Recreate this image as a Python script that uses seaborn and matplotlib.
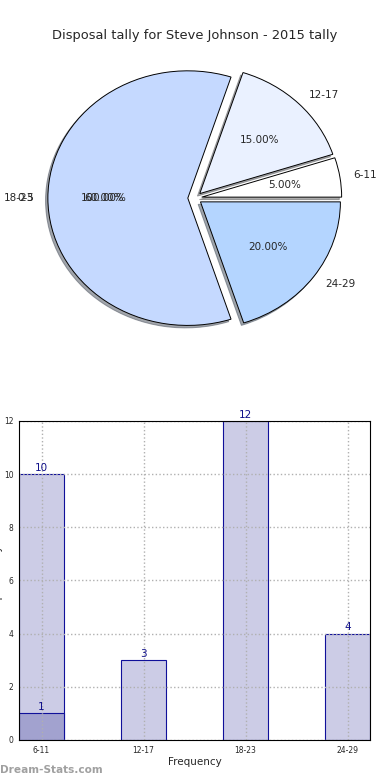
import matplotlib
matplotlib.use("Agg")
import matplotlib.pyplot as plt
import seaborn as sns
import pandas as pd

# data
age_groups = ["6-11", "12-17", "18-23", "24-29"]
pie_share = [5, 15, 60, 20]
pie_colors = ["#ffffff", "#eaf1ff", "#c5d9ff", "#b4d5ff"]
tally = [10, 3, 12, 4]
first_group = ["6-11"]
first_tally = [1]
extra_label = "0-5"
extra_pct = "100.00%"

sns.set_style("white")
plt.rcParams["font.family"] = ["DejaVu Sans"]

fig = plt.figure(figsize=(3.9, 7.8), dpi=100)
fig.suptitle("Disposal tally for Steve Johnson - 2015 tally", fontsize=9.4, y=0.963)

# pie
ax1 = fig.add_axes([0.051, 0.542, 0.897, 0.408])
wedges, texts, autotexts = ax1.pie(
    pie_share,
    labels=age_groups,
    colors=pie_colors,
    explode=[0.05] * len(pie_share),
    autopct="%.2f%%",
    shadow={"ox": -0.012, "oy": -0.014, "shade": 0.65},
    startangle=0,
    wedgeprops={"edgecolor": "black", "linewidth": 0.7},
    textprops={"fontsize": 7.5},
)
ax1.set_aspect("auto")
ax1.set_xlim(-1.25, 1.25)
ax1.set_ylim(-1.25, 1.25)

# stray zero slice that sits on top of the 18-23 labels
big = age_groups.index("18-23")
ax1.text(*texts[big].get_position(), extra_label, fontsize=7.5,
         ha=texts[big].get_ha(), va="center")
ax1.text(*autotexts[big].get_position(), extra_pct, fontsize=7.5,
         ha="center", va="center")

# bars
ax2 = fig.add_axes([0.049, 0.0513, 0.9, 0.409])
df = pd.DataFrame({"group": age_groups, "tally": tally})
df1 = pd.DataFrame({"group": first_group, "tally": first_tally})
sns.barplot(data=df, x="group", y="tally", order=age_groups, color="#ccccE6",
            saturation=1, width=0.44, edgecolor="#10109a", linewidth=0.8, ax=ax2)
sns.barplot(data=df1, x="group", y="tally", order=age_groups, color="#a2a2cf",
            saturation=1, width=0.44, edgecolor="#10109a", linewidth=0.8, ax=ax2)
for c in ax2.containers:
    ax2.bar_label(c, color="#10108a", fontsize=7.5, padding=1)

ax2.set_xlim(-0.22, 3.22)
ax2.set_ylim(0, 12)
ax2.set_yticks(range(0, 13, 2))
ax2.tick_params(labelsize=5.5, length=2, pad=2)
ax2.grid(True, linestyle=":", color="#b0b0b0", linewidth=1)
ax2.set_axisbelow(False)
for s in ax2.spines.values():
    s.set_color("black")
    s.set_linewidth(0.8)
    s.set_zorder(5)
ax2.set_xlabel("Frequency", fontsize=7.5, labelpad=2)
ax2.set_ylabel("Disposal Tally", fontsize=7.5)
ax2.yaxis.set_label_coords(-0.046, 0.5)

fig.text(0.0, 0.0125, "Dream-Stats.com", fontsize=7.6, color="#a0a0a0",
         fontweight="bold", ha="left", va="center")

fig.savefig("out.png", dpi=100)
